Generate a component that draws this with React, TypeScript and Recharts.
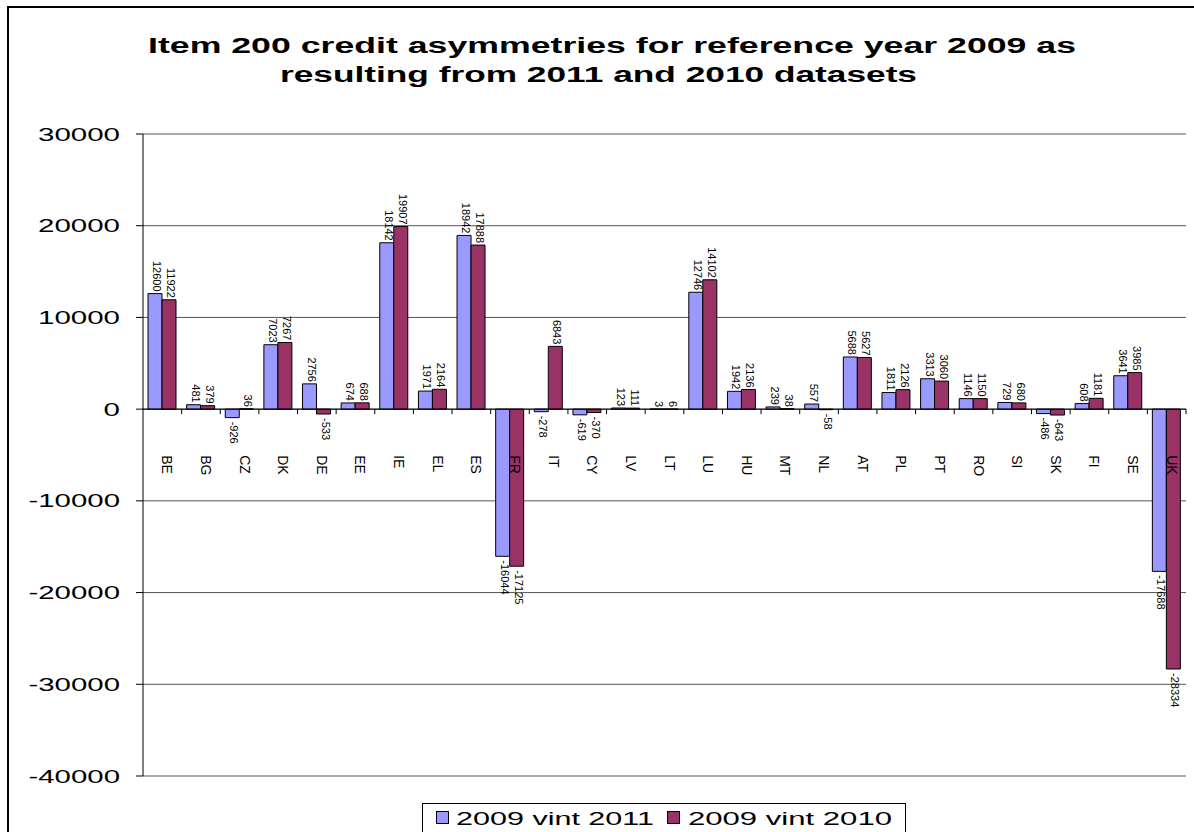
import { BarChart, Bar, XAxis, YAxis, CartesianGrid, ReferenceLine, LabelList } from 'recharts';

const categories = ['BE', 'BG', 'CZ', 'DK', 'DE', 'EE', 'IE', 'EL', 'ES', 'FR', 'IT', 'CY', 'LV', 'LT', 'LU', 'HU', 'MT', 'NL', 'AT', 'PL', 'PT', 'RO', 'SI', 'SK', 'FI', 'SE', 'UK'];
const vint2011 = [12600, 481, -926, 7023, 2756, 674, 18142, 1971, 18942, -16044, -278, -619, 123, 3, 12746, 1942, 239, 557, 5688, 1811, 3313, 1146, 729, -486, 608, 3641, -17688];
const vint2010 = [11922, 379, 36, 7267, -533, 688, 19907, 2164, 17888, -17125, 6843, -370, 111, 6, 14102, 2136, 38, -58, 5627, 2126, 3060, 1150, 680, -643, 1181, 3985, -28334];
const yTicks = [-40000, -30000, -20000, -10000, 0, 10000, 20000, 30000];
const seriesNames = ['2009 vint 2011', '2009 vint 2010'];

const data = categories.map((c, i) => ({ country: c, v2011: vint2011[i], v2010: vint2010[i] }));

const W = 1194;
const H = 832;
const MARGIN = { top: 134, right: 8, bottom: 55, left: 8 };
const Y_WIDTH = 135;
const X_HEIGHT = 1;
const PLOT_H = H - MARGIN.top - MARGIN.bottom - X_HEIGHT;
const PLOT_W = W - MARGIN.left - MARGIN.right - Y_WIDTH;
const BAND = PLOT_W / categories.length;
const Y_MIN = yTicks[0];
const Y_MAX = yTicks[yTicks.length - 1];
// distance from the bottom of the plot up to the zero line
const ZERO_SHIFT = (PLOT_H * (0 - Y_MIN)) / (Y_MAX - Y_MIN);

const FONT = '"Liberation Sans", Arial, sans-serif';
const BLUE = '#9999FF';
const PLUM = '#993366';

const YTick = (props: any) => {
  const { x, y, payload } = props;
  const s = String(payload.value);
  const digits = s.replace('-', '').length;
  const len = digits * 16.4 + (s.startsWith('-') ? 9.5 : 0);
  return (
    <text x={x} y={y} textAnchor="end" dominantBaseline="central" fontSize={19} fontFamily={FONT} fill="#000"
      textLength={len} lengthAdjust="spacingAndGlyphs">
      {s}
    </text>
  );
};

const XTick = (props: any) => {
  const { x, y, payload } = props;
  const zy = y - ZERO_SHIFT;
  const lx = x + 5;
  const ly = zy + 46;
  return (
    <g>
      <line x1={x + BAND / 2} x2={x + BAND / 2} y1={zy} y2={zy + 5} stroke="#000" />
      <text x={lx} y={ly} transform={`rotate(90 ${lx} ${ly})`} dominantBaseline="central" fontSize={14}
        fontFamily={FONT} fill="#000">
        {payload.value}
      </text>
    </g>
  );
};

const BarLabel = (props: any) => {
  const { x, y, width, height, value } = props;
  const top = Math.min(y, y + height);
  const bot = Math.max(y, y + height);
  const cx = x + width / 2 + 2;
  const pos = value >= 0;
  const ay = pos ? top - 2 : bot + 4;
  return (
    <text x={cx} y={ay} transform={`rotate(90 ${cx} ${ay})`} textAnchor={pos ? 'end' : 'start'}
      dominantBaseline="central" fontSize={11} fontFamily={FONT} fill="#000">
      {value}
    </text>
  );
};

export default function App() {
  return (
    <div style={{ position: 'absolute', left: 0, top: 0, width: W, height: H, overflow: 'hidden', background: '#fff' }}>
      <div style={{ position: 'absolute', left: 7, top: 6, width: 1200, height: 900, border: '2px solid #000' }} />
      <div style={{ position: 'absolute', left: 0, top: 0 }}>
        <BarChart width={W} height={H} data={data} margin={MARGIN} barSize={14} barGap={0}>
          <CartesianGrid vertical={false} stroke="#555" />
          <XAxis dataKey="country" height={X_HEIGHT} axisLine={false} tickLine={false} tickSize={0} tickMargin={0}
            interval={0} tick={<XTick />} />
          <YAxis type="number" domain={[Y_MIN, Y_MAX]} ticks={yTicks} interval={0} width={Y_WIDTH}
            axisLine={{ stroke: '#000' }} tickLine={{ stroke: '#000' }} tickSize={7} tickMargin={16}
            tick={<YTick />} />
          <YAxis yAxisId="right" orientation="right" type="number" domain={[Y_MIN, Y_MAX]} width={0}
            tick={false} tickLine={false} axisLine={{ stroke: '#999', strokeWidth: 2 }} />
          <ReferenceLine y={0} stroke="#000" />
          <Bar dataKey="v2011" name={seriesNames[0]} fill={BLUE} stroke="#000" strokeWidth={1} isAnimationActive={false}>
            <LabelList dataKey="v2011" content={<BarLabel />} />
          </Bar>
          <Bar dataKey="v2010" name={seriesNames[1]} fill={PLUM} stroke="#000" strokeWidth={1} isAnimationActive={false}>
            <LabelList dataKey="v2010" content={<BarLabel />} />
          </Bar>
        </BarChart>
      </div>
      <svg width={W} height={H} style={{ position: 'absolute', left: 0, top: 0, pointerEvents: 'none' }}>
        <text x={148} y={53} fontSize={22} fontWeight="bold" fontFamily={FONT} fill="#000"
          textLength={928} lengthAdjust="spacingAndGlyphs">
          Item 200 credit asymmetries for reference year 2009 as
        </text>
        <text x={280} y={82} fontSize={22} fontWeight="bold" fontFamily={FONT} fill="#000"
          textLength={637} lengthAdjust="spacingAndGlyphs">
          resulting from 2011 and 2010 datasets
        </text>
        <rect x={422.5} y={803.5} width={483} height={40} fill="#fff" stroke="#000" />
        <rect x={436.5} y={811.5} width={12} height={12} fill={BLUE} stroke="#000" />
        <text x={456} y={825} fontSize={19} fontFamily={FONT} fill="#000" textLength={198} lengthAdjust="spacingAndGlyphs">
          {seriesNames[0]}
        </text>
        <rect x={667.5} y={811.5} width={12} height={12} fill={PLUM} stroke="#000" />
        <text x={688} y={825} fontSize={19} fontFamily={FONT} fill="#000" textLength={204} lengthAdjust="spacingAndGlyphs">
          {seriesNames[1]}
        </text>
      </svg>
    </div>
  );
}
